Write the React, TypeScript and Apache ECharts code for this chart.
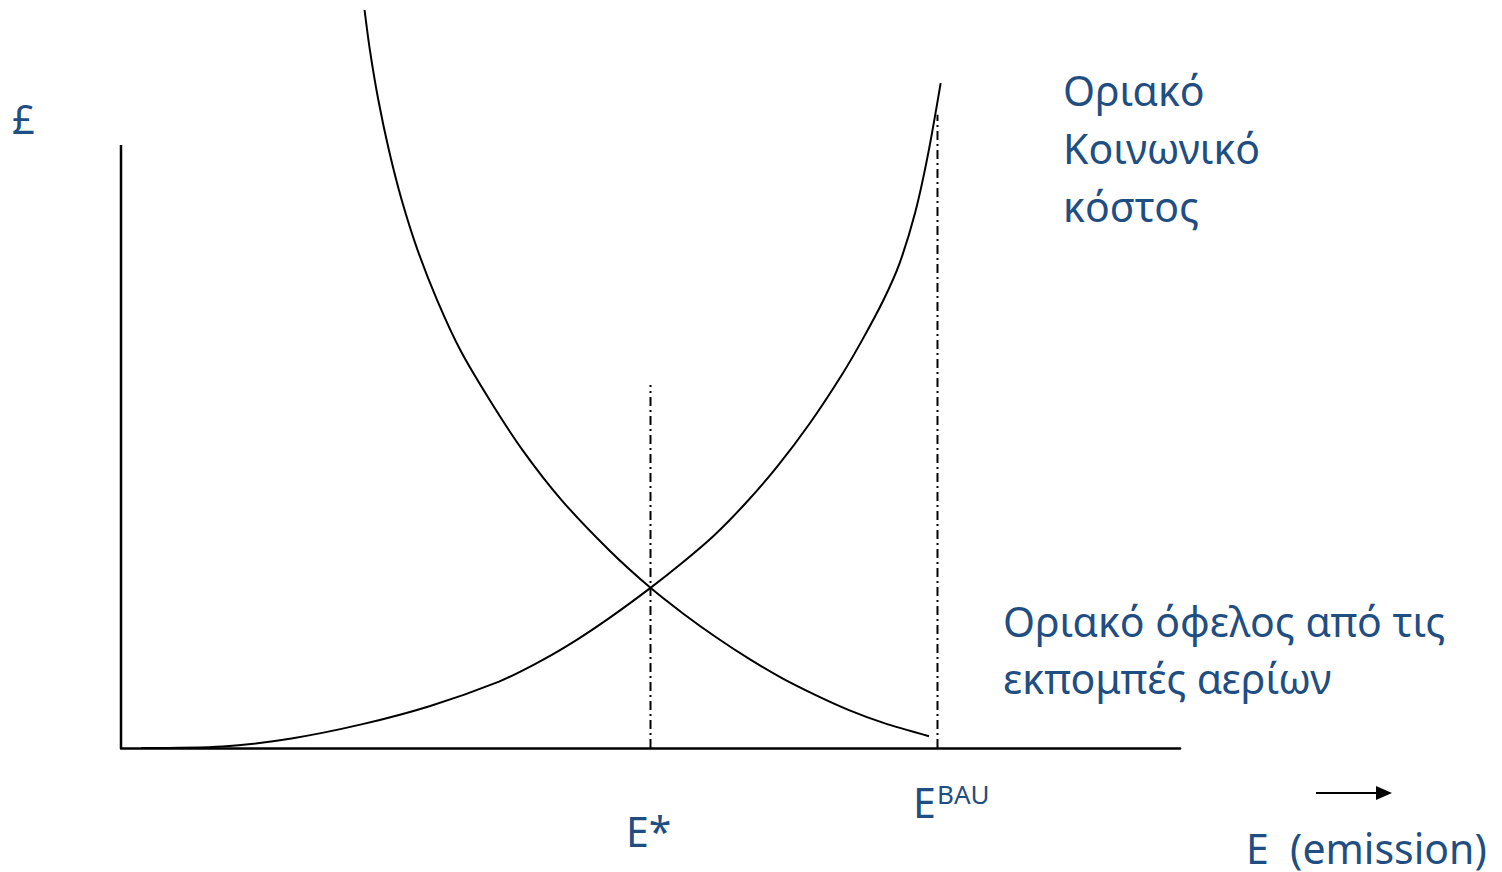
import React, { useEffect, useRef } from "react";
import * as echarts from "echarts";

// Marginal social cost (rising) curve: E values and £ values
const mscX = [1.9, 9.6, 16.1, 22.7, 29.2, 35.7, 39.0, 42.2, 46.0, 50.0, 53.0, 56.0, 59.0, 62.0, 65.0, 68.0, 70.0, 72.0, 73.5, 75.0, 76.2, 77.4];
const mscY = [0, 0.2, 1.3, 3.2, 5.7, 9.0, 11.3, 13.9, 17.5, 21.7, 25.1, 28.8, 33.2, 38.2, 43.9, 50.4, 55.3, 60.7, 65.6, 72.6, 80.4, 90.1];

// Marginal benefit of emissions (falling) curve: E values and £ values
const mbX = [23.0, 23.5, 24.3, 25.3, 26.5, 28.0, 29.85, 32.05, 34.8, 37.9, 41.6, 46.1, 50.0, 53.1, 56.3, 59.4, 62.5, 65.7, 68.8, 72.0, 76.3];
const mbY = [100, 94.6, 87.8, 81.0, 74.3, 67.5, 60.7, 53.9, 47.2, 40.4, 33.6, 26.8, 21.7, 18.2, 14.9, 12.0, 9.4, 7.1, 5.1, 3.4, 1.6];

// Reference levels
const eStar = 50.0;
const eStarTop = 49.2;
const eBau = 77.1;
const eBauTop = 85.8;
const yAxisTop = 81.7;

const labelMSC = ["Οριακό", "Κοινωνικό", "κόστος"];
const labelMB = ["Οριακό όφελος από τις", "εκπομπές αερίων"];

const TEXT = "#1f4e82";
const FONT = "'Noto Sans', 'Open Sans', sans-serif";

const zip = (xs: number[], ys: number[]) => xs.map((x, i) => [x, ys[i]]);

export default function App() {
  const ref = useRef<HTMLDivElement>(null);
  useEffect(() => {
    document.body.style.margin = "0";
    const chart = echarts.init(ref.current!, null, { renderer: "svg" });
    const dashDot = [9, 4, 2, 4];
    const txt = (x: number, y: number, s: string, size: number, extra: any = {}) => ({
      type: "text",
      x,
      y,
      style: { text: s, fill: TEXT, fontSize: size, fontFamily: FONT, textVerticalAlign: "middle", ...extra },
    });
    chart.setOption({
      animation: false,
      backgroundColor: "#ffffff",
      grid: { left: 121, right: 322, top: 10, bottom: 124 },
      xAxis: {
        type: "value",
        min: 0,
        max: 100,
        axisLine: { show: true, lineStyle: { color: "#000", width: 2.5 } },
        axisTick: { show: false },
        axisLabel: { show: false },
        splitLine: { show: false },
      },
      yAxis: {
        type: "value",
        min: 0,
        max: 100,
        axisLine: { show: false },
        axisTick: { show: false },
        axisLabel: { show: false },
        splitLine: { show: false },
      },
      series: [
        {
          type: "line",
          data: [[0, 0], [0, yAxisTop]],
          showSymbol: false,
          lineStyle: { color: "#000", width: 2.5 },
          silent: true,
        },
        {
          type: "line",
          data: zip(mscX, mscY),
          smooth: 0.3,
          showSymbol: false,
          lineStyle: { color: "#000", width: 2 },
          silent: true,
        },
        {
          type: "line",
          data: zip(mbX, mbY),
          smooth: 0.3,
          showSymbol: false,
          lineStyle: { color: "#000", width: 2 },
          silent: true,
        },
        {
          type: "line",
          data: [[eStar, 0], [eStar, eStarTop]],
          showSymbol: false,
          lineStyle: { color: "#000", width: 2, type: dashDot },
          silent: true,
        },
        {
          type: "line",
          data: [[eBau, 0], [eBau, eBauTop]],
          showSymbol: false,
          lineStyle: { color: "#000", width: 2, type: dashDot },
          silent: true,
        },
      ],
      graphic: [
        txt(12, 118, "£", 40),
        ...labelMSC.map((s, i) => txt(1063, 90 + i * 58, s, 41)),
        ...labelMB.map((s, i) => txt(1003, 621 + i * 57, s, 41)),
        txt(626, 831, "E*", 41),
        txt(913, 802, "E", 41),
        txt(937, 794, "BAU", 26),
        txt(1246, 848, "E  (emission)", 41),
        {
          type: "line",
          shape: { x1: 1316, y1: 793, x2: 1378, y2: 793 },
          style: { stroke: "#000", lineWidth: 2 },
        },
        {
          type: "polygon",
          shape: { points: [[1376, 786], [1392, 793], [1376, 800]] },
          style: { fill: "#000" },
        },
      ],
    });
    return () => chart.dispose();
  }, []);
  return <div ref={ref} style={{ width: 1502, height: 872 }} />;
}
